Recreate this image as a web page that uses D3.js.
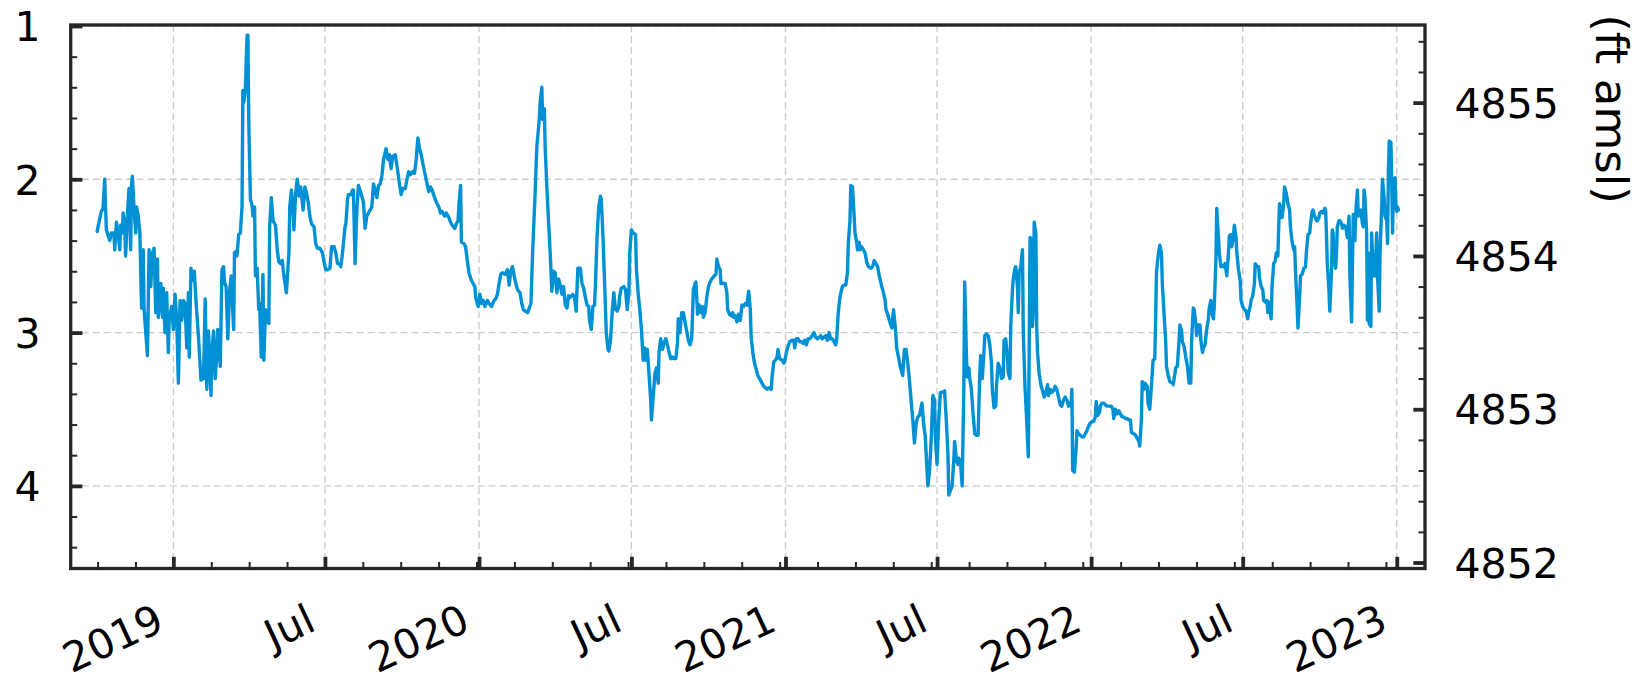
<!DOCTYPE html>
<html><head><meta charset="utf-8">
<script src="https://cdn.jsdelivr.net/npm/d3@7"></script>
<style>html,body{margin:0;padding:0;background:#fff;} svg{display:block;font-family:"DejaVu Sans",sans-serif;}</style>
</head><body><svg id="chart" width="1635" height="681"></svg>
<script>
// depth to water (ft below reference point), [date, depth]
const obs2018 = [["2018-10-02",2.34],["2018-10-05",2.26],["2018-10-07",2.21],["2018-10-09",2.19],["2018-10-11",2.00],["2018-10-12",2.18],["2018-10-13",2.33],["2018-10-17",2.40],["2018-10-19",2.35],["2018-10-22",2.35],["2018-10-23",2.46],["2018-10-25",2.28],["2018-10-27",2.35],["2018-10-29",2.46],["2018-10-30",2.30],["2018-11-01",2.35],["2018-11-02",2.22],["2018-11-04",2.31],["2018-11-05",2.50],["2018-11-07",2.24],["2018-11-09",2.06],["2018-11-11",2.46],["2018-11-12",2.05],["2018-11-13",1.98],["2018-11-15",2.18],["2018-11-17",2.35],["2018-11-18",2.18],["2018-11-20",2.24],["2018-11-22",2.35],["2018-11-24",2.84],["2018-11-26",2.46],["2018-11-27",2.84],["2018-12-01",3.15],["2018-12-03",2.46],["2018-12-05",2.70],["2018-12-07",2.48],["2018-12-09",2.45],["2018-12-11",2.87],["2018-12-13",2.52],["2018-12-14",2.90],["2018-12-17",2.68],["2018-12-19",2.90],["2018-12-20",2.71],["2018-12-22",3.00],["2018-12-24",2.74],["2018-12-26",3.13],["2018-12-27",2.92],["2018-12-30",2.83]];
const obs2019 = [["2019-01-01",2.98],["2019-01-03",2.75],["2019-01-05",2.92],["2019-01-07",3.33],["2019-01-09",2.79],["2019-01-11",2.92],["2019-01-13",2.79],["2019-01-15",2.81],["2019-01-17",3.10],["2019-01-19",2.74],["2019-01-20",3.16],["2019-01-22",2.58],["2019-01-24",2.66],["2019-01-26",2.60],["2019-01-28",2.79],["2019-01-31",3.03],["2019-02-03",3.31],["2019-02-06",3.30],["2019-02-08",2.78],["2019-02-10",3.37],["2019-02-12",2.99],["2019-02-15",3.41],["2019-02-16",3.13],["2019-02-18",2.99],["2019-02-20",3.30],["2019-02-22",3.13],["2019-02-23",2.98],["2019-02-26",3.22],["2019-02-28",2.59],["2019-03-02",2.57],["2019-03-03",2.67],["2019-03-05",2.70],["2019-03-07",3.04],["2019-03-09",2.74],["2019-03-11",2.63],["2019-03-14",2.98],["2019-03-15",2.48],["2019-03-17",2.47],["2019-03-18",2.50],["2019-03-20",2.36],["2019-03-22",2.35],["2019-03-24",2.18],["2019-03-25",1.42],["2019-03-26",1.50],["2019-03-28",1.42],["2019-03-30",1.06],["2019-03-31",1.06],["2019-04-01",1.61],["2019-04-03",2.13],["2019-04-05",2.17],["2019-04-06",2.24],["2019-04-08",2.18],["2019-04-09",2.63],["2019-04-11",2.58],["2019-04-13",2.85],["2019-04-14",2.81],["2019-04-16",3.16],["2019-04-18",2.62],["2019-04-19",3.18],["2019-04-21",2.85],["2019-04-23",2.92],["2019-04-25",2.94],["2019-04-26",2.31],["2019-04-28",2.12],["2019-04-30",2.27],["2019-05-03",2.30],["2019-05-05",2.46],["2019-05-07",2.54],["2019-05-09",2.55],["2019-05-11",2.53],["2019-05-13",2.63],["2019-05-16",2.74],["2019-05-19",2.48],["2019-05-20",2.18],["2019-05-22",2.07],["2019-05-24",2.22],["2019-05-25",2.33],["2019-05-27",2.09],["2019-05-29",2.00],["2019-05-31",2.11],["2019-06-02",2.05],["2019-06-04",2.15],["2019-06-05",2.20],["2019-06-07",2.05],["2019-06-09",2.09],["2019-06-11",2.15],["2019-06-13",2.24],["2019-06-15",2.29],["2019-06-18",2.31],["2019-06-20",2.42],["2019-06-22",2.45],["2019-06-25",2.45],["2019-06-28",2.48],["2019-06-30",2.54],["2019-07-02",2.59],["2019-07-04",2.59],["2019-07-07",2.58],["2019-07-09",2.44],["2019-07-12",2.44],["2019-07-14",2.48],["2019-07-16",2.55],["2019-07-18",2.55],["2019-07-20",2.57],["2019-07-22",2.48],["2019-07-25",2.31],["2019-07-26",2.29],["2019-07-28",2.13],["2019-07-29",2.10],["2019-08-01",2.10],["2019-08-03",2.07],["2019-08-04",2.07],["2019-08-06",2.55],["2019-08-08",2.22],["2019-08-10",2.04],["2019-08-13",2.09],["2019-08-16",2.15],["2019-08-18",2.32],["2019-08-20",2.24],["2019-08-23",2.21],["2019-08-26",2.18],["2019-08-28",2.03],["2019-08-30",2.07],["2019-09-01",2.12],["2019-09-03",2.04],["2019-09-05",2.03],["2019-09-07",1.98],["2019-09-09",1.87],["2019-09-12",1.80],["2019-09-14",1.87],["2019-09-16",1.84],["2019-09-18",1.93],["2019-09-20",1.85],["2019-09-23",1.84],["2019-09-25",1.91],["2019-09-28",2.03],["2019-09-30",2.10],["2019-10-02",2.06],["2019-10-05",2.06],["2019-10-07",2.00],["2019-10-09",1.95],["2019-10-11",1.97],["2019-10-14",1.95],["2019-10-16",1.96],["2019-10-18",1.87],["2019-10-20",1.73],["2019-10-22",1.80],["2019-10-24",1.84],["2019-10-26",1.90],["2019-10-29",1.98],["2019-10-31",2.03],["2019-11-02",2.08],["2019-11-04",2.05],["2019-11-06",2.07],["2019-11-09",2.12],["2019-11-11",2.15],["2019-11-14",2.18],["2019-11-16",2.22],["2019-11-18",2.21],["2019-11-21",2.24],["2019-11-23",2.22],["2019-11-26",2.25],["2019-11-28",2.28],["2019-11-30",2.30],["2019-12-03",2.32],["2019-12-05",2.29],["2019-12-07",2.27],["2019-12-08",2.17],["2019-12-10",2.04],["2019-12-11",2.41],["2019-12-14",2.42],["2019-12-16",2.44],["2019-12-18",2.53],["2019-12-20",2.61],["2019-12-23",2.66],["2019-12-25",2.68],["2019-12-27",2.70],["2019-12-28",2.77],["2019-12-31",2.83]];
const obs2020 = [["2020-01-02",2.75],["2020-01-04",2.81],["2020-01-06",2.79],["2020-01-08",2.83],["2020-01-11",2.79],["2020-01-13",2.81],["2020-01-16",2.83],["2020-01-19",2.79],["2020-01-21",2.78],["2020-01-23",2.75],["2020-01-25",2.68],["2020-01-27",2.62],["2020-01-29",2.61],["2020-02-01",2.62],["2020-02-04",2.59],["2020-02-06",2.69],["2020-02-08",2.60],["2020-02-10",2.57],["2020-02-12",2.63],["2020-02-14",2.68],["2020-02-16",2.72],["2020-02-19",2.74],["2020-02-21",2.81],["2020-02-23",2.85],["2020-02-25",2.86],["2020-02-28",2.87],["2020-03-01",2.84],["2020-03-03",2.81],["2020-03-05",2.48],["2020-03-08",2.09],["2020-03-10",1.79],["2020-03-13",1.61],["2020-03-14",1.50],["2020-03-16",1.40],["2020-03-17",1.61],["2020-03-19",1.54],["2020-03-20",1.79],["2020-03-22",2.05],["2020-03-24",2.27],["2020-03-26",2.48],["2020-03-28",2.73],["2020-03-30",2.60],["2020-04-01",2.61],["2020-04-03",2.74],["2020-04-05",2.65],["2020-04-07",2.69],["2020-04-09",2.75],["2020-04-11",2.70],["2020-04-13",2.82],["2020-04-15",2.84],["2020-04-17",2.76],["2020-04-19",2.77],["2020-04-22",2.75],["2020-04-24",2.77],["2020-04-26",2.86],["2020-04-28",2.58],["2020-05-01",2.58],["2020-05-03",2.68],["2020-05-05",2.71],["2020-05-07",2.77],["2020-05-09",2.82],["2020-05-11",2.83],["2020-05-12",2.92],["2020-05-14",2.98],["2020-05-16",2.83],["2020-05-18",2.82],["2020-05-19",2.69],["2020-05-21",2.37],["2020-05-23",2.18],["2020-05-25",2.11],["2020-05-26",2.13],["2020-05-28",2.37],["2020-05-30",2.68],["2020-06-01",3.00],["2020-06-03",3.11],["2020-06-04",3.12],["2020-06-06",3.05],["2020-06-08",2.87],["2020-06-10",2.74],["2020-06-12",2.85],["2020-06-14",2.86],["2020-06-16",2.83],["2020-06-17",2.76],["2020-06-19",2.71],["2020-06-22",2.70],["2020-06-24",2.72],["2020-06-26",2.85],["2020-06-28",2.74],["2020-06-29",2.48],["2020-07-01",2.33],["2020-07-03",2.35],["2020-07-06",2.36],["2020-07-07",2.59],["2020-07-09",2.74],["2020-07-11",2.85],["2020-07-13",2.98],["2020-07-15",3.18],["2020-07-17",3.10],["2020-07-18",3.18],["2020-07-20",3.11],["2020-07-22",3.27],["2020-07-24",3.44],["2020-07-25",3.57],["2020-07-27",3.42],["2020-07-29",3.27],["2020-07-31",3.23],["2020-08-02",3.33],["2020-08-03",3.13],["2020-08-05",3.04],["2020-08-07",3.11],["2020-08-09",3.07],["2020-08-11",3.04],["2020-08-13",3.08],["2020-08-15",3.13],["2020-08-17",3.17],["2020-08-19",3.16],["2020-08-21",3.17],["2020-08-23",3.17],["2020-08-25",3.07],["2020-08-26",2.91],["2020-08-28",3.00],["2020-08-30",2.87],["2020-09-01",2.87],["2020-09-03",2.93],["2020-09-05",2.99],["2020-09-07",3.05],["2020-09-09",3.08],["2020-09-11",3.04],["2020-09-13",2.72],["2020-09-15",2.68],["2020-09-16",2.67],["2020-09-18",2.88],["2020-09-20",2.82],["2020-09-22",2.87],["2020-09-24",2.83],["2020-09-25",2.90],["2020-09-27",2.87],["2020-09-29",2.77],["2020-10-01",2.70],["2020-10-03",2.67],["2020-10-05",2.65],["2020-10-08",2.63],["2020-10-10",2.62],["2020-10-11",2.52],["2020-10-13",2.57],["2020-10-15",2.59],["2020-10-16",2.68],["2020-10-19",2.68],["2020-10-21",2.68],["2020-10-23",2.74],["2020-10-24",2.85],["2020-10-26",2.88],["2020-10-28",2.89],["2020-10-30",2.87],["2020-10-31",2.90],["2020-11-02",2.89],["2020-11-04",2.93],["2020-11-06",2.88],["2020-11-08",2.92],["2020-11-10",2.82],["2020-11-12",2.83],["2020-11-14",2.81],["2020-11-16",2.82],["2020-11-18",2.73],["2020-11-20",2.85],["2020-11-21",3.03],["2020-11-23",3.13],["2020-11-25",3.20],["2020-11-27",3.24],["2020-11-29",3.28],["2020-12-01",3.30],["2020-12-04",3.33],["2020-12-06",3.35],["2020-12-08",3.36],["2020-12-10",3.37],["2020-12-13",3.36],["2020-12-15",3.37],["2020-12-16",3.29],["2020-12-18",3.19],["2020-12-20",3.18],["2020-12-22",3.16],["2020-12-23",3.11],["2020-12-25",3.17],["2020-12-28",3.18],["2020-12-30",3.20],["2020-12-31",3.19]];
const obs2021 = [["2021-01-02",3.13],["2021-01-04",3.09],["2021-01-06",3.06],["2021-01-09",3.05],["2021-01-11",3.05],["2021-01-12",3.10],["2021-01-14",3.04],["2021-01-16",3.04],["2021-01-18",3.06],["2021-01-20",3.06],["2021-01-22",3.07],["2021-01-24",3.05],["2021-01-26",3.08],["2021-01-28",3.04],["2021-01-30",3.04],["2021-02-02",3.02],["2021-02-04",3.00],["2021-02-06",3.03],["2021-02-08",3.04],["2021-02-10",3.03],["2021-02-12",3.02],["2021-02-14",3.04],["2021-02-16",3.03],["2021-02-18",3.02],["2021-02-20",3.05],["2021-02-22",3.00],["2021-02-24",3.04],["2021-02-26",3.04],["2021-02-28",3.06],["2021-03-02",3.08],["2021-03-03",3.05],["2021-03-05",2.87],["2021-03-07",2.77],["2021-03-09",2.72],["2021-03-10",2.70],["2021-03-12",2.69],["2021-03-14",2.69],["2021-03-16",2.61],["2021-03-17",2.42],["2021-03-19",2.27],["2021-03-20",2.04],["2021-03-22",2.05],["2021-03-24",2.24],["2021-03-25",2.35],["2021-03-27",2.41],["2021-03-28",2.46],["2021-03-30",2.41],["2021-03-31",2.46],["2021-04-02",2.44],["2021-04-04",2.46],["2021-04-06",2.48],["2021-04-08",2.54],["2021-04-10",2.57],["2021-04-13",2.58],["2021-04-15",2.57],["2021-04-17",2.53],["2021-04-19",2.55],["2021-04-21",2.57],["2021-04-23",2.63],["2021-04-26",2.70],["2021-04-28",2.74],["2021-04-30",2.79],["2021-05-01",2.85],["2021-05-03",2.88],["2021-05-05",2.92],["2021-05-08",2.97],["2021-05-10",2.85],["2021-05-12",2.96],["2021-05-14",3.11],["2021-05-16",3.16],["2021-05-18",3.22],["2021-05-21",3.28],["2021-05-23",3.11],["2021-05-25",3.11],["2021-05-27",3.20],["2021-05-29",3.31],["2021-05-31",3.44],["2021-06-02",3.57],["2021-06-04",3.72],["2021-06-06",3.59],["2021-06-08",3.55],["2021-06-10",3.54],["2021-06-13",3.46],["2021-06-15",3.60],["2021-06-17",3.68],["2021-06-18",3.79],["2021-06-20",4.00],["2021-06-22",3.90],["2021-06-24",3.70],["2021-06-26",3.41],["2021-06-28",3.44],["2021-06-29",3.68],["2021-07-01",3.86],["2021-07-03",3.57],["2021-07-05",3.39],["2021-07-07",3.39],["2021-07-10",3.38],["2021-07-12",3.57],["2021-07-14",3.79],["2021-07-15",4.06],["2021-07-17",4.03],["2021-07-19",4.00],["2021-07-21",3.83],["2021-07-22",3.71],["2021-07-24",3.83],["2021-07-26",3.86],["2021-07-27",3.82],["2021-07-29",3.85],["2021-07-31",4.00],["2021-08-02",3.35],["2021-08-03",2.67],["2021-08-05",3.13],["2021-08-06",3.29],["2021-08-08",3.23],["2021-08-09",3.30],["2021-08-11",3.37],["2021-08-13",3.53],["2021-08-15",3.66],["2021-08-17",3.67],["2021-08-19",3.67],["2021-08-21",3.28],["2021-08-22",3.15],["2021-08-24",3.30],["2021-08-26",3.13],["2021-08-27",3.02],["2021-08-29",3.01],["2021-08-31",3.02],["2021-09-02",3.08],["2021-09-04",3.20],["2021-09-05",3.37],["2021-09-07",3.49],["2021-09-09",3.48],["2021-09-10",3.35],["2021-09-12",3.20],["2021-09-14",3.23],["2021-09-16",3.30],["2021-09-18",3.29],["2021-09-19",3.05],["2021-09-21",3.04],["2021-09-23",3.16],["2021-09-24",3.26],["2021-09-26",3.30],["2021-09-27",2.96],["2021-09-29",2.72],["2021-09-30",2.65],["2021-10-02",2.58],["2021-10-03",2.57],["2021-10-05",2.70],["2021-10-06",2.87],["2021-10-07",2.61],["2021-10-09",2.57],["2021-10-11",2.46],["2021-10-12",3.00],["2021-10-14",3.35],["2021-10-16",3.57],["2021-10-18",3.81],["2021-10-19",3.13],["2021-10-20",2.38],["2021-10-22",2.39],["2021-10-23",2.96],["2021-10-24",2.85],["2021-10-25",2.28],["2021-10-27",2.35],["2021-10-28",2.96],["2021-10-29",3.13],["2021-10-31",3.27],["2021-11-02",3.34],["2021-11-04",3.38],["2021-11-06",3.42],["2021-11-08",3.39],["2021-11-10",3.34],["2021-11-11",3.41],["2021-11-13",3.37],["2021-11-15",3.39],["2021-11-17",3.38],["2021-11-19",3.35],["2021-11-21",3.37],["2021-11-23",3.42],["2021-11-25",3.47],["2021-11-27",3.48],["2021-11-29",3.44],["2021-12-01",3.42],["2021-12-03",3.44],["2021-12-05",3.48],["2021-12-06",3.46],["2021-12-08",3.48],["2021-12-09",3.37],["2021-12-10",3.90],["2021-12-12",3.91],["2021-12-14",3.76],["2021-12-15",3.64],["2021-12-17",3.66],["2021-12-19",3.67],["2021-12-21",3.68],["2021-12-23",3.68],["2021-12-25",3.66],["2021-12-27",3.64],["2021-12-29",3.61],["2021-12-31",3.59]];
const obs2022 = [["2022-01-02",3.58],["2022-01-04",3.58],["2022-01-06",3.55],["2022-01-07",3.45],["2022-01-09",3.54],["2022-01-11",3.52],["2022-01-12",3.48],["2022-01-14",3.46],["2022-01-16",3.46],["2022-01-18",3.47],["2022-01-20",3.48],["2022-01-22",3.48],["2022-01-25",3.48],["2022-01-27",3.50],["2022-01-28",3.56],["2022-01-30",3.50],["2022-02-01",3.53],["2022-02-03",3.51],["2022-02-05",3.53],["2022-02-07",3.55],["2022-02-09",3.55],["2022-02-11",3.56],["2022-02-13",3.56],["2022-02-15",3.57],["2022-02-17",3.57],["2022-02-18",3.65],["2022-02-21",3.66],["2022-02-23",3.67],["2022-02-25",3.69],["2022-02-27",3.71],["2022-02-28",3.74],["2022-03-02",3.57],["2022-03-03",3.32],["2022-03-05",3.37],["2022-03-06",3.33],["2022-03-09",3.35],["2022-03-10",3.46],["2022-03-12",3.50],["2022-03-14",3.35],["2022-03-16",3.18],["2022-03-18",3.17],["2022-03-19",2.92],["2022-03-20",2.61],["2022-03-22",2.50],["2022-03-24",2.43],["2022-03-26",2.48],["2022-03-27",2.68],["2022-03-29",2.87],["2022-03-31",3.05],["2022-04-01",3.22],["2022-04-03",3.28],["2022-04-05",3.32],["2022-04-08",3.33],["2022-04-09",3.34],["2022-04-11",3.27],["2022-04-12",3.23],["2022-04-14",3.22],["2022-04-16",3.05],["2022-04-17",2.95],["2022-04-19",2.99],["2022-04-20",3.06],["2022-04-22",3.09],["2022-04-24",3.16],["2022-04-26",3.22],["2022-04-28",3.33],["2022-04-30",3.33],["2022-05-01",3.05],["2022-05-03",2.84],["2022-05-04",2.85],["2022-05-06",2.94],["2022-05-07",3.02],["2022-05-09",2.95],["2022-05-11",2.95],["2022-05-12",3.05],["2022-05-14",3.13],["2022-05-15",3.10],["2022-05-17",3.08],["2022-05-19",2.98],["2022-05-21",2.91],["2022-05-22",2.84],["2022-05-24",2.79],["2022-05-25",2.87],["2022-05-27",2.91],["2022-05-28",2.83],["2022-05-30",2.53],["2022-05-31",2.19],["2022-06-02",2.37],["2022-06-03",2.48],["2022-06-05",2.57],["2022-06-06",2.56],["2022-06-08",2.57],["2022-06-10",2.55],["2022-06-12",2.63],["2022-06-14",2.48],["2022-06-15",2.37],["2022-06-17",2.36],["2022-06-18",2.44],["2022-06-20",2.37],["2022-06-21",2.30],["2022-06-23",2.38],["2022-06-24",2.48],["2022-06-26",2.59],["2022-06-28",2.66],["2022-06-29",2.79],["2022-07-01",2.83],["2022-07-03",2.85],["2022-07-05",2.86],["2022-07-07",2.91],["2022-07-08",2.87],["2022-07-10",2.83],["2022-07-11",2.79],["2022-07-13",2.76],["2022-07-15",2.68],["2022-07-16",2.55],["2022-07-18",2.57],["2022-07-20",2.57],["2022-07-21",2.64],["2022-07-23",2.70],["2022-07-25",2.72],["2022-07-26",2.79],["2022-07-28",2.80],["2022-07-30",2.79],["2022-07-31",2.87],["2022-08-01",2.80],["2022-08-03",2.87],["2022-08-04",2.91],["2022-08-05",2.70],["2022-08-07",2.55],["2022-08-09",2.53],["2022-08-10",2.48],["2022-08-12",2.50],["2022-08-13",2.31],["2022-08-14",2.16],["2022-08-16",2.20],["2022-08-17",2.25],["2022-08-19",2.16],["2022-08-20",2.05],["2022-08-22",2.09],["2022-08-24",2.16],["2022-08-26",2.20],["2022-08-27",2.31],["2022-08-29",2.41],["2022-08-31",2.46],["2022-09-01",2.44],["2022-09-02",2.59],["2022-09-04",2.83],["2022-09-05",2.97],["2022-09-07",2.77],["2022-09-08",2.63],["2022-09-10",2.62],["2022-09-12",2.58],["2022-09-14",2.57],["2022-09-15",2.48],["2022-09-17",2.36],["2022-09-19",2.35],["2022-09-20",2.29],["2022-09-22",2.21],["2022-09-23",2.20],["2022-09-25",2.24],["2022-09-27",2.27],["2022-09-28",2.27],["2022-09-30",2.25],["2022-10-01",2.22],["2022-10-03",2.21],["2022-10-05",2.22],["2022-10-07",2.19],["2022-10-08",2.20],["2022-10-09",2.35],["2022-10-10",2.55],["2022-10-12",2.72],["2022-10-13",2.86],["2022-10-15",2.61],["2022-10-16",2.33],["2022-10-17",2.35],["2022-10-18",2.53],["2022-10-20",2.58],["2022-10-21",2.48],["2022-10-22",2.31],["2022-10-24",2.27],["2022-10-25",2.27],["2022-10-27",2.29],["2022-10-28",2.32],["2022-10-30",2.30],["2022-11-01",2.31],["2022-11-03",2.38],["2022-11-05",2.24],["2022-11-06",2.63],["2022-11-08",2.93],["2022-11-09",2.57],["2022-11-10",2.23],["2022-11-12",2.40],["2022-11-13",2.22],["2022-11-15",2.07],["2022-11-16",2.24],["2022-11-17",2.21],["2022-11-19",2.20],["2022-11-21",2.29],["2022-11-22",2.31],["2022-11-23",2.07],["2022-11-24",2.12],["2022-11-26",2.35],["2022-11-27",2.92],["2022-11-28",2.48],["2022-11-29",2.94],["2022-12-01",2.96],["2022-12-02",2.35],["2022-12-04",2.63],["2022-12-05",2.52],["2022-12-06",2.63],["2022-12-08",2.35],["2022-12-09",2.63],["2022-12-11",2.86],["2022-12-12",2.48],["2022-12-14",2.18],["2022-12-15",2.00],["2022-12-17",2.13],["2022-12-18",2.24],["2022-12-20",2.27],["2022-12-21",2.42],["2022-12-22",1.94],["2022-12-23",1.75],["2022-12-25",1.76],["2022-12-26",2.03],["2022-12-27",2.35],["2022-12-28",2.00],["2022-12-30",1.99],["2022-12-31",2.18]];
const obs2023 = [["2023-01-01",2.21],["2023-01-02",2.18],["2023-01-03",2.20]];

const leftTicks = [1, 2, 3, 4];
const rightTicks = [4852, 4853, 4854, 4855];
const xTickDates = ["2019-01-01","2019-07-01","2020-01-01","2020-07-01","2021-01-01","2021-07-01","2022-01-01","2022-07-01","2023-01-01"];
const xTickLabels = ["2019","Jul","2020","Jul","2021","Jul","2022","Jul","2023"];
const rightAxisLabel = "(ft amsl)";
const datumFt = 4856.5; // elevation = datum - depth
const depthLimits = [0.9935, 4.539];
const dateLimits = ["2018-08-31T09:36:00Z", "2023-02-03T16:48:00Z"];

const series = [].concat(obs2018, obs2019, obs2020, obs2021, obs2022, obs2023)
  .map(d => ({ t: new Date(d[0] + "T00:00:00Z"), v: d[1] }));

const svg = d3.select("#chart");
const box = { left: 70.7, right: 1425, top: 25, bottom: 568.5 };
const ink = "#262626";

const x = d3.scaleUtc().domain(dateLimits.map(s => new Date(s))).range([box.left, box.right]);
const y = d3.scaleLinear().domain(depthLimits).range([box.top, box.bottom]);
const yR = d3.scaleLinear().domain(depthLimits.map(d => datumFt - d)).range([box.top, box.bottom]);

const majorDates = xTickDates.map(s => new Date(s + "T00:00:00Z"));
// minor ticks: 4 equal subdivisions of the first major interval, repeated
const DAY = 86400000;
const minorStep = (majorDates[1] - majorDates[0]) / 4;
const minorDates = [];
for (let k = -10; k < 60; k++) {
  const t = new Date(+majorDates[0] + k * minorStep);
  if (t < x.domain()[0] || t > x.domain()[1]) continue;
  if (x(t) > box.right - 2) continue;
  if (majorDates.some(m => Math.abs(m - t) < DAY / 2)) continue;
  minorDates.push(t);
}
const leftMinor = d3.range(1.2, 4.5, 0.2).filter(v => Math.abs(v - Math.round(v)) > 0.01);
const rightMinor = d3.range(4852.2, 4855.5, 0.2).filter(v => Math.abs(v - Math.round(v)) > 0.01);

// grid
const grid = svg.append("g").attr("stroke", "#cccccc").attr("stroke-width", 1.4).attr("stroke-dasharray", "7,4");
grid.selectAll(".gx").data(majorDates).join("line")
  .attr("x1", d => x(d)).attr("x2", d => x(d)).attr("y1", box.top).attr("y2", box.bottom);
grid.selectAll(".gy").data(leftTicks).join("line")
  .attr("y1", d => y(d)).attr("y2", d => y(d)).attr("x1", box.left).attr("x2", box.right);

// line
svg.append("defs").append("clipPath").attr("id", "clip").append("rect")
  .attr("x", box.left).attr("y", box.top).attr("width", box.right - box.left).attr("height", box.bottom - box.top);
svg.append("path").datum(series)
  .attr("clip-path", "url(#clip)")
  .attr("fill", "none").attr("stroke", "#0091d5").attr("stroke-width", 3.4)
  .attr("stroke-linejoin", "round").attr("stroke-linecap", "round")
  .attr("d", d3.line().x(d => x(d.t)).y(d => y(d.v)));

// spines
svg.append("rect").attr("x", box.left).attr("y", box.top)
  .attr("width", box.right - box.left).attr("height", box.bottom - box.top)
  .attr("fill", "none").attr("stroke", ink).attr("stroke-width", 3.3);

function styleAxis(g, w) {
  g.select(".domain").remove();
  g.selectAll(".tick line").attr("stroke", ink).attr("stroke-width", w);
  g.selectAll(".tick text").attr("fill", "#000").attr("font-size", 41).attr("font-family", "DejaVu Sans, sans-serif");
}
function minorAxis(g) {
  g.select(".domain").remove();
  g.selectAll(".tick text").remove();
  g.selectAll(".tick line").attr("stroke", ink).attr("stroke-width", 2);
}

// left axis
const gl = svg.append("g").attr("transform", `translate(${box.left},0)`)
  .call(d3.axisLeft(y).tickValues(leftTicks).tickFormat(d3.format("d")).tickSize(-11.7).tickPadding(30.2));
styleAxis(gl, 3.8); gl.selectAll(".tick text").attr("dy", "0.36em");
svg.append("g").attr("transform", `translate(${box.left},0)`)
  .call(d3.axisLeft(y).tickValues(leftMinor).tickSize(-6.5)).call(minorAxis);

// right axis
const gr = svg.append("g").attr("transform", `translate(${box.right},0)`)
  .call(d3.axisRight(yR).tickValues(rightTicks).tickFormat(d3.format("d")).tickSize(-11.7).tickPadding(29.5));
styleAxis(gr, 3.8); gr.selectAll(".tick text").attr("dy", "0.36em");
svg.append("g").attr("transform", `translate(${box.right},0)`)
  .call(d3.axisRight(yR).tickValues(rightMinor).tickSize(-6.5)).call(minorAxis);

// bottom axis
const gb = svg.append("g").attr("transform", `translate(0,${box.bottom})`)
  .call(d3.axisBottom(x).tickValues(majorDates).tickFormat((d, i) => xTickLabels[i]).tickSize(-11.7));
styleAxis(gb, 3.8);
gb.selectAll(".tick text").attr("x", 0).attr("y", 0).attr("dy", 0)
  .attr("text-anchor", "end").attr("transform", "translate(-7.7,60.9) rotate(-25)");
svg.append("g").attr("transform", `translate(0,${box.bottom})`)
  .call(d3.axisBottom(x).tickValues(minorDates).tickSize(-6.5)).call(minorAxis);

// right axis label
svg.append("text").attr("transform", "translate(1596,109) rotate(90)")
  .attr("text-anchor", "middle").attr("font-size", 45).attr("fill", "#000")
  .text(rightAxisLabel);
</script></body></html>
